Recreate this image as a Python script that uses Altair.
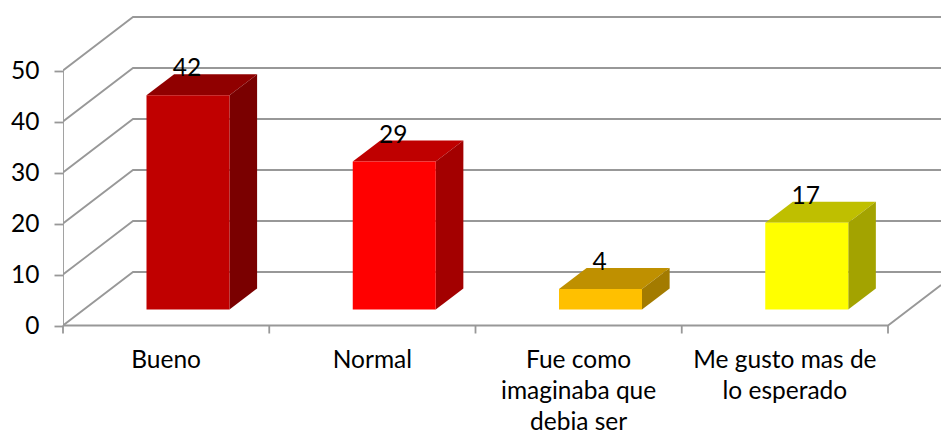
import altair as alt
import pandas as pd

categories = ["Bueno", "Normal", "Fue como\nimaginaba que\ndebia ser", "Me gusto mas de\nlo esperado"]
values = [42, 29, 4, 17]
front_colors = ["#C00000", "#FF0000", "#FFC000", "#FFFF00"]
top_colors = ["#900000", "#BF0000", "#BF9000", "#BFBF00"]
side_colors = ["#7A0000", "#A30000", "#A37B00", "#A3A300"]
y_ticks = [0, 10, 20, 30, 40, 50]

FONT = "Lato"
GRID = "#989898"
PX_X = 206.25   # pixels per category
PX_Y = 5.1      # pixels per value unit
LEFT = 55
W, H = 933 - LEFT, 427
X_MAX = W / PX_X
Y_TOP = (325.5 - 8) / PX_Y
Y_BOT = (325.5 - 435) / PX_Y

WALL_DX, WALL_DY = 70 / PX_X, 53.5 / PX_Y
BAR_DX, BAR_DY = 27.6 / PX_X, 21 / PX_Y
BAR_L, BAR_W = 83.5 / PX_X, 83 / PX_X
BASE = 16 / PX_Y

xs = alt.Scale(domain=[0, X_MAX], nice=False, zero=False)
ys = alt.Scale(domain=[Y_BOT, Y_TOP], nice=False, zero=False)
y_axis_def = alt.Axis(
    values=y_ticks, title=None, domain=False, grid=False, format="d",
    tickSize=9, tickColor=GRID, tickWidth=1.8,
    labelFont=FONT, labelFontSize=24.5, labelColor="#000000", labelPadding=15, labelOffset=1,
)
X = lambda f="x": alt.X(f"{f}:Q", scale=xs, axis=None)
Y = lambda f="y": alt.Y(f"{f}:Q", scale=ys, axis=y_axis_def)

grid_rows = []
for t in y_ticks:
    grid_rows += [
        {"k": t, "o": 0, "x": 0, "y": t},
        {"k": t, "o": 1, "x": WALL_DX, "y": t + WALL_DY},
        {"k": t, "o": 2, "x": X_MAX, "y": t + WALL_DY},
    ]
grid_rows += [
    {"k": -1, "o": 0, "x": 0, "y": 0},
    {"k": -1, "o": 1, "x": len(categories), "y": 0},
    {"k": -1, "o": 2, "x": X_MAX, "y": (X_MAX - len(categories)) * PX_X / 70 * 53.5 / PX_Y},
    {"k": -2, "o": 0, "x": 0, "y": 0},
    {"k": -2, "o": 1, "x": 0, "y": 50},
]
grid = alt.Chart(pd.DataFrame(grid_rows)).mark_line(color=GRID, strokeWidth=1.8, clip=True).encode(
    x=X(), y=Y(), detail="k:N", order="o:Q"
)

n = len(categories)
x_ticks = alt.Chart(pd.DataFrame({"x": list(range(n + 1)), "y": [0] * (n + 1), "y2": [-8 / PX_Y] * (n + 1)})).mark_rule(
    color=GRID, strokeWidth=1.8
).encode(x=X(), y=Y(), y2="y2:Q")

faces = []
for i, v in enumerate(values):
    x0 = i + BAR_L
    x1 = x0 + BAR_W
    yt = v + BASE
    top = pd.DataFrame({
        "x": [x0, x0 + BAR_DX, x1, x1 + BAR_DX],
        "y": [yt, yt + BAR_DY, yt + BAR_DY, yt + BAR_DY],
        "y2": [yt, yt, yt, yt + BAR_DY],
    })
    side = pd.DataFrame({
        "x": [x1, x1 + BAR_DX],
        "y": [yt, yt + BAR_DY],
        "y2": [BASE, BASE + BAR_DY],
    })
    front = pd.DataFrame({"x": [x0], "x2": [x1], "y": [yt], "y2": [BASE]})
    faces.append(alt.Chart(top).mark_area(color=top_colors[i], orient="vertical").encode(x=X(), y=Y(), y2="y2:Q"))
    faces.append(alt.Chart(side).mark_area(color=side_colors[i], orient="vertical").encode(x=X(), y=Y(), y2="y2:Q"))
    faces.append(alt.Chart(front).mark_rect(color=front_colors[i]).encode(x=X(), x2="x2:Q", y=Y(), y2="y2:Q"))

val_df = pd.DataFrame({
    "x": [i + BAR_L + BAR_W / 2 - 1 / PX_X for i in range(len(values))],
    "y": [v + BASE + 26 / PX_Y for v in values],
    "t": [str(v) for v in values],
})
val_l = alt.Chart(val_df).mark_text(font=FONT, fontSize=24.5, color="#000000", baseline="middle").encode(
    x=X(), y=Y(), text="t:N"
)

cat_df = pd.DataFrame({
    "x": [i + 0.5 for i in range(n)],
    "y": [(325.5 - 349) / PX_Y] * n,
    "t": categories,
})
cat_l = alt.Chart(cat_df).mark_text(
    font=FONT, fontSize=24.5, color="#000000", baseline="top", lineBreak="\n", lineHeight=31
).encode(x=X(), y=Y(), text="t:N")

chart = alt.layer(grid, x_ticks, *faces, val_l, cat_l).properties(
    width=W, height=H,
    padding={"left": LEFT, "top": 0, "right": 0, "bottom": 0},
    autosize=alt.AutoSizeParams(type="none"),
).configure_view(stroke=None)

chart.save("out.html", embed_options={"renderer": "svg", "actions": False})
